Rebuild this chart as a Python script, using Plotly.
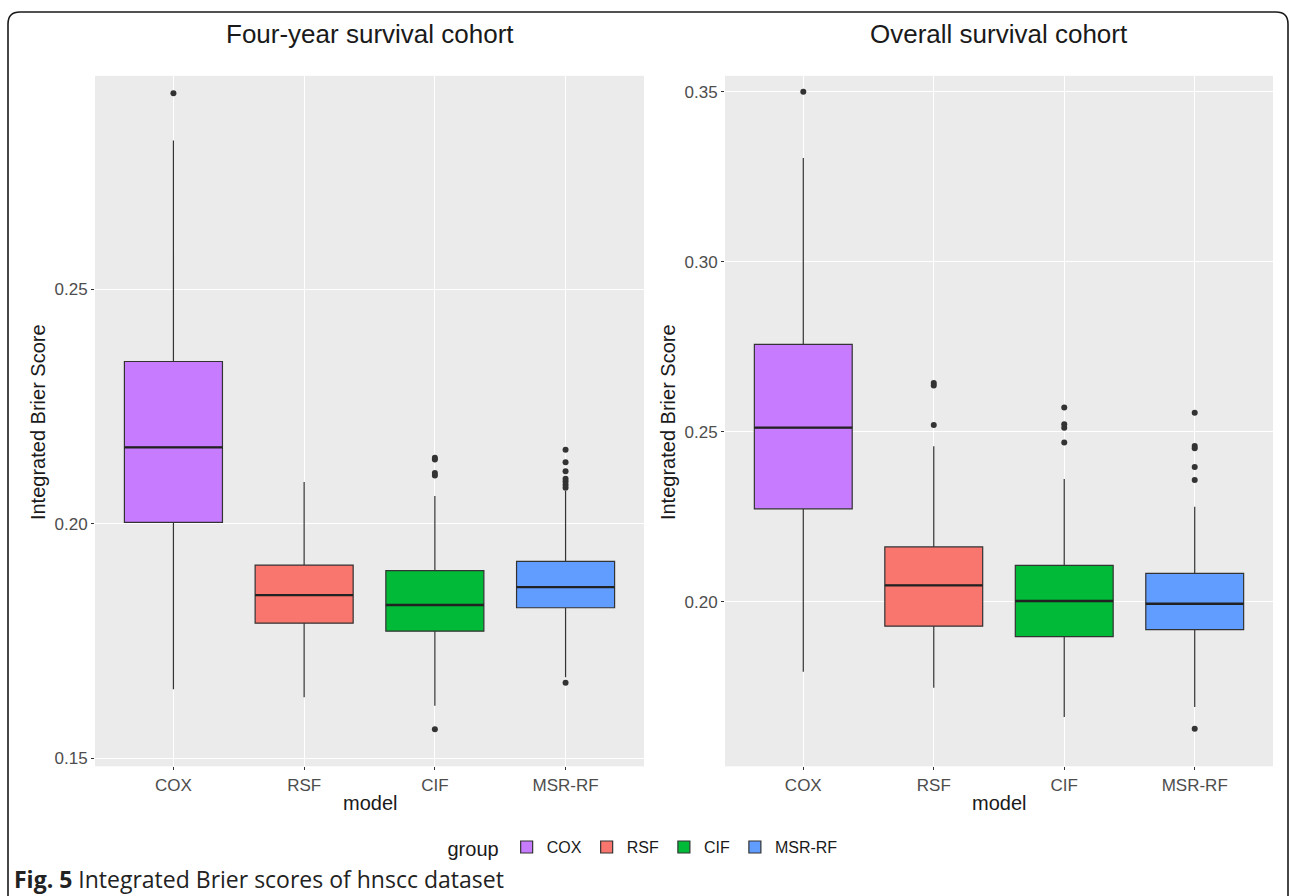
import plotly.graph_objects as go

# ---------------- data ----------------
models = ["COX", "RSF", "CIF", "MSR-RF"]
colors = ["#C77CFF", "#F8766D", "#00BA38", "#619CFF"]

# Four-year survival cohort
four_lower = [0.1647, 0.1630, 0.1612, 0.1673]
four_q1 = [0.2003, 0.1788, 0.1771, 0.1821]
four_median = [0.2163, 0.1848, 0.1827, 0.1865]
four_q3 = [0.2346, 0.1912, 0.1900, 0.1920]
four_upper = [0.2817, 0.2089, 0.2059, 0.2070]
four_outliers = [
    [0.2918],
    [],
    [0.2141, 0.2137, 0.2108, 0.2103, 0.1562],
    [0.2158, 0.2131, 0.2112, 0.2096, 0.2090, 0.2083, 0.2077, 0.1661],
]

# Overall survival cohort
over_lower = [0.1794, 0.1747, 0.1661, 0.1690]
over_q1 = [0.2273, 0.1928, 0.1897, 0.1918]
over_median = [0.2512, 0.2048, 0.2002, 0.1994]
over_q3 = [0.2757, 0.2161, 0.2107, 0.2083]
over_upper = [0.3305, 0.2457, 0.2361, 0.2279]
over_outliers = [
    [0.3500],
    [0.2643, 0.2636, 0.2520],
    [0.2571, 0.2522, 0.2512, 0.2468],
    [0.2556, 0.2458, 0.2451, 0.2396, 0.2358, 0.1626],
]

panel_titles = ["Four-year survival cohort", "Overall survival cohort"]
y_ticks_left = [0.15, 0.20, 0.25]
y_ticks_right = [0.20, 0.25, 0.30, 0.35]

# ---------------- figure ----------------
W, H = 1290, 896
FONT = "Liberation Sans, Arial, sans-serif"
BOXW = 0.75

fig = go.Figure()

panels = [
    (four_lower, four_q1, four_median, four_q3, four_upper, four_outliers, "x", "y"),
    (over_lower, over_q1, over_median, over_q3, over_upper, over_outliers, "x2", "y2"),
]

for p, (lo, q1, med, q3, hi, outs, xa, ya) in enumerate(panels):
    for i, m in enumerate(models):
        fig.add_trace(go.Box(
            x=[i], q1=[q1[i]], median=[med[i]], q3=[q3[i]],
            lowerfence=[lo[i]], upperfence=[hi[i]],
            name=m, legendgroup=m, showlegend=(p == 0),
            fillcolor=colors[i], line=dict(color="#333333", width=1.2),
            width=BOXW, whiskerwidth=0, boxpoints=False,
            xaxis=xa, yaxis=ya, hoverinfo="skip",
        ))
        # thicker median line (ggplot style)
        fig.add_trace(go.Scatter(
            x=[i - BOXW / 2, i + BOXW / 2], y=[med[i], med[i]],
            mode="lines", line=dict(color="#222222", width=2.4),
            showlegend=False, xaxis=xa, yaxis=ya, hoverinfo="skip",
        ))
        if outs[i]:
            fig.add_trace(go.Scatter(
                x=[i] * len(outs[i]), y=outs[i], mode="markers",
                marker=dict(color="#333333", size=6),
                showlegend=False, xaxis=xa, yaxis=ya, hoverinfo="skip",
            ))

def px_x(v):
    return v / W

def px_y(v):
    return 1 - v / H

xdom_left = [px_x(95), px_x(644)]
xdom_right = [px_x(725), px_x(1273)]
ydom = [px_y(768), px_y(76)]

common_x = dict(
    tickmode="array", tickvals=list(range(len(models))), ticktext=models,
    range=[-0.6, 3.6], showgrid=True, gridcolor="white", gridwidth=1.2,
    zeroline=False, ticks="outside", ticklen=3, tickcolor="#333333",
    tickfont=dict(family=FONT, size=17, color="#4D4D4D"), showline=False,
)
common_y = dict(
    showgrid=True, gridcolor="white", gridwidth=1.2, zeroline=False,
    ticks="outside", ticklen=3, tickcolor="#333333", tickformat=".2f",
    tickfont=dict(family=FONT, size=17, color="#4D4D4D"), showline=False,
)

fig.update_layout(
    width=W, height=H,
    margin=dict(l=0, r=0, t=0, b=0),
    paper_bgcolor="white", plot_bgcolor="#EBEBEB",
    xaxis=dict(domain=xdom_left, anchor="y", **common_x),
    yaxis=dict(domain=ydom, anchor="x", range=[0.1483, 0.2955],
               tickvals=y_ticks_left, **common_y),
    xaxis2=dict(domain=xdom_right, anchor="y2", **common_x),
    yaxis2=dict(domain=ydom, anchor="x2", range=[0.15157, 0.3547],
                tickvals=y_ticks_right, **common_y),
    showlegend=True,
    legend=dict(
        orientation="h", x=px_x(644), y=px_y(850), xanchor="center", yanchor="middle",
        title=dict(text="group", font=dict(family=FONT, size=20, color="#1A1A1A")),
        font=dict(family=FONT, size=16, color="#1A1A1A"),
        bgcolor="rgba(0,0,0,0)", itemwidth=30, traceorder="normal",
    ),
)

annotations = []
centers = [(95 + 644) / 2, (725 + 1273) / 2]
for c, t in zip(centers, panel_titles):
    annotations.append(dict(
        text=t, x=px_x(c), y=px_y(34), xref="paper", yref="paper",
        showarrow=False, xanchor="center", yanchor="middle",
        font=dict(family=FONT, size=26, color="#1A1A1A"),
    ))
    annotations.append(dict(
        text="model", x=px_x(c), y=px_y(805), xref="paper", yref="paper",
        showarrow=False, xanchor="center", yanchor="middle",
        font=dict(family=FONT, size=20, color="#1A1A1A"),
    ))
for xpos in [38, 668]:
    annotations.append(dict(
        text="Integrated Brier Score", x=px_x(xpos), y=px_y(423),
        xref="paper", yref="paper", showarrow=False, textangle=-90,
        xanchor="center", yanchor="middle",
        font=dict(family=FONT, size=20, color="#1A1A1A"),
    ))
annotations.append(dict(
    text="<b>Fig. 5</b> Integrated Brier scores of hnscc dataset",
    x=px_x(12), y=px_y(881), xref="paper", yref="paper", showarrow=False,
    xanchor="left", yanchor="middle",
    font=dict(family="Open Sans, Noto Sans, sans-serif", size=23, color="#222222"),
))
fig.update_layout(annotations=annotations)

# outer rounded frame
def P(x, y):
    return f"{x / W:.5f},{1 - y / H:.5f}"

frame = (f"M {P(8, 900)} L {P(8, 24)} Q {P(8, 12)} {P(20, 12)} "
         f"L {P(1276, 12)} Q {P(1288, 12)} {P(1288, 24)} L {P(1288, 900)}")
fig.add_shape(type="path", path=frame, xref="paper", yref="paper",
              line=dict(color="#1A1A1A", width=1.6), layer="above")

fig.write_html("out.html", config={"displayModeBar": False},
               post_script="document.body.style.margin='0';document.body.style.overflow='hidden';")
